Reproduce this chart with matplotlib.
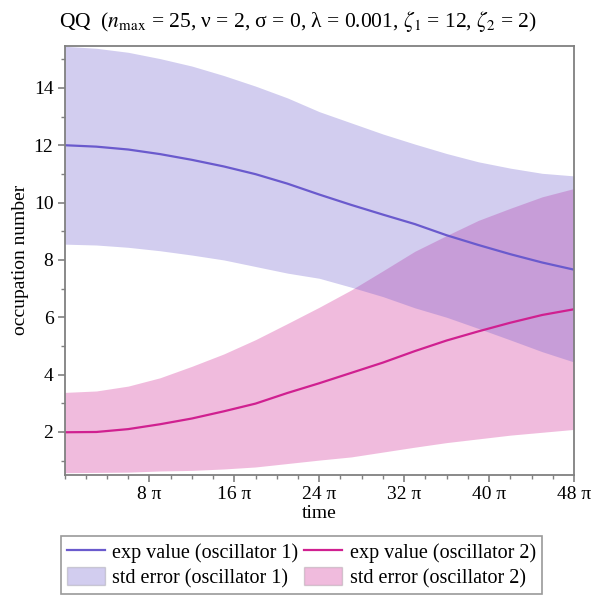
import numpy as np
import matplotlib
matplotlib.use("Agg")
import matplotlib.pyplot as plt
import matplotlib.ticker as ticker
from matplotlib.lines import Line2D
from matplotlib.patches import Patch

# ── DATA (time in units of pi) ───────────────────────────────────────────────
t_pi = [0, 3, 6, 9, 12, 15, 18, 21, 24, 27, 30, 33, 36, 39, 42, 45, 48]

mean1 = [12.0, 11.95, 11.85, 11.69, 11.49, 11.26, 10.99, 10.66, 10.28,
         9.92, 9.58, 9.25, 8.86, 8.52, 8.2, 7.91, 7.66]
upper1 = [15.45, 15.38, 15.24, 15.02, 14.76, 14.43, 14.06, 13.65, 13.17,
          12.78, 12.39, 12.04, 11.71, 11.42, 11.2, 11.02, 10.93]
lower1 = [8.55, 8.52, 8.44, 8.32, 8.17, 8.0, 7.77, 7.54, 7.36,
          7.05, 6.72, 6.33, 6.0, 5.61, 5.21, 4.8, 4.44]

mean2 = [1.99, 2.0, 2.1, 2.27, 2.47, 2.72, 2.99, 3.36, 3.7,
         4.06, 4.42, 4.82, 5.19, 5.51, 5.81, 6.08, 6.28]
upper2 = [3.38, 3.43, 3.6, 3.89, 4.29, 4.72, 5.22, 5.78, 6.35,
          6.95, 7.62, 8.3, 8.85, 9.38, 9.8, 10.2, 10.49]
lower2 = [0.58, 0.59, 0.60, 0.64, 0.66, 0.71, 0.78, 0.9, 1.02,
          1.13, 1.3, 1.47, 1.63, 1.76, 1.89, 1.99, 2.09]

xtick_pi = [8, 16, 24, 32, 40, 48]
xtick_labels = ["8 π", "16 π", "24 π", "32 π", "40 π", "48 π"]

# ── STYLE ────────────────────────────────────────────────────────────────────
C1 = "#6a5acd"   # slate blue
C2 = "#d02090"   # violet red
GREY = "#808080"
plt.rcParams["font.family"] = ["Liberation Serif", "DejaVu Serif"]
plt.rcParams["mathtext.fontset"] = "stix"

t = np.array(t_pi) * np.pi

fig = plt.figure(figsize=(6, 6), dpi=100)
ax = fig.add_axes([64.5 / 600, 125 / 600, (574 - 64.5) / 600, (475 - 45.7) / 600])

# bands: oscillator 2 first, oscillator 1 on top (both translucent)
ax.fill_between(t, lower2, upper2, color=C2, alpha=0.3, linewidth=0)
ax.fill_between(t, lower1, upper1, color=C1, alpha=0.3, linewidth=0)
ax.plot(t, mean1, color=C1, linewidth=1.6)
ax.plot(t, mean2, color=C2, linewidth=1.6)

ax.set_xlim(0, 48 * np.pi)
ax.set_ylim(0.5, 15.47)

ax.set_xticks(np.array(xtick_pi) * np.pi)
ax.set_xticklabels(xtick_labels)
ax.xaxis.set_minor_locator(ticker.MultipleLocator(2 * np.pi))
ax.yaxis.set_major_locator(ticker.MultipleLocator(2))
ax.yaxis.set_minor_locator(ticker.MultipleLocator(1))

for sp in ax.spines.values():
    sp.set_color(GREY)
    sp.set_linewidth(1.3)
ax.tick_params(which="major", direction="out", length=5, width=1.2, color=GREY,
               labelsize=14, pad=3)
ax.tick_params(which="minor", direction="out", length=3, width=1.0, color=GREY)

ax.set_xlabel("time", fontsize=14, labelpad=1)
ax.set_ylabel("occupation number", fontsize=14, labelpad=3)

fig.text(0.497, 0.965,
         r"QQ  ($n_{\mathrm{max}}$ = 25, ν = 2, σ = 0, λ = 0.001, "
         r"$\zeta_1$ = 12, $\zeta_2$ = 2)",
         ha="center", va="center", fontsize=15.5)

# ── LEGEND ───────────────────────────────────────────────────────────────────
handles = [
    Line2D([], [], color=C1, linewidth=1.6),
    Patch(facecolor=C1, alpha=0.3, edgecolor=GREY),
    Line2D([], [], color=C2, linewidth=1.6),
    Patch(facecolor=C2, alpha=0.3, edgecolor=GREY),
]
labels = ["exp value (oscillator 1)", "std error (oscillator 1)",
          "exp value (oscillator 2)", "std error (oscillator 2)"]
leg = fig.legend(handles, labels, ncol=2, loc="center",
                 bbox_to_anchor=(0.502, 0.058), fontsize=14.5, frameon=True,
                 fancybox=False, edgecolor=GREY, handlelength=1.9,
                 handleheight=1.0, handletextpad=0.35, columnspacing=0.3,
                 labelspacing=0.2, borderpad=0.3, borderaxespad=0)
leg.get_frame().set_linewidth(1.2)

fig.savefig("out.png", dpi=100)
